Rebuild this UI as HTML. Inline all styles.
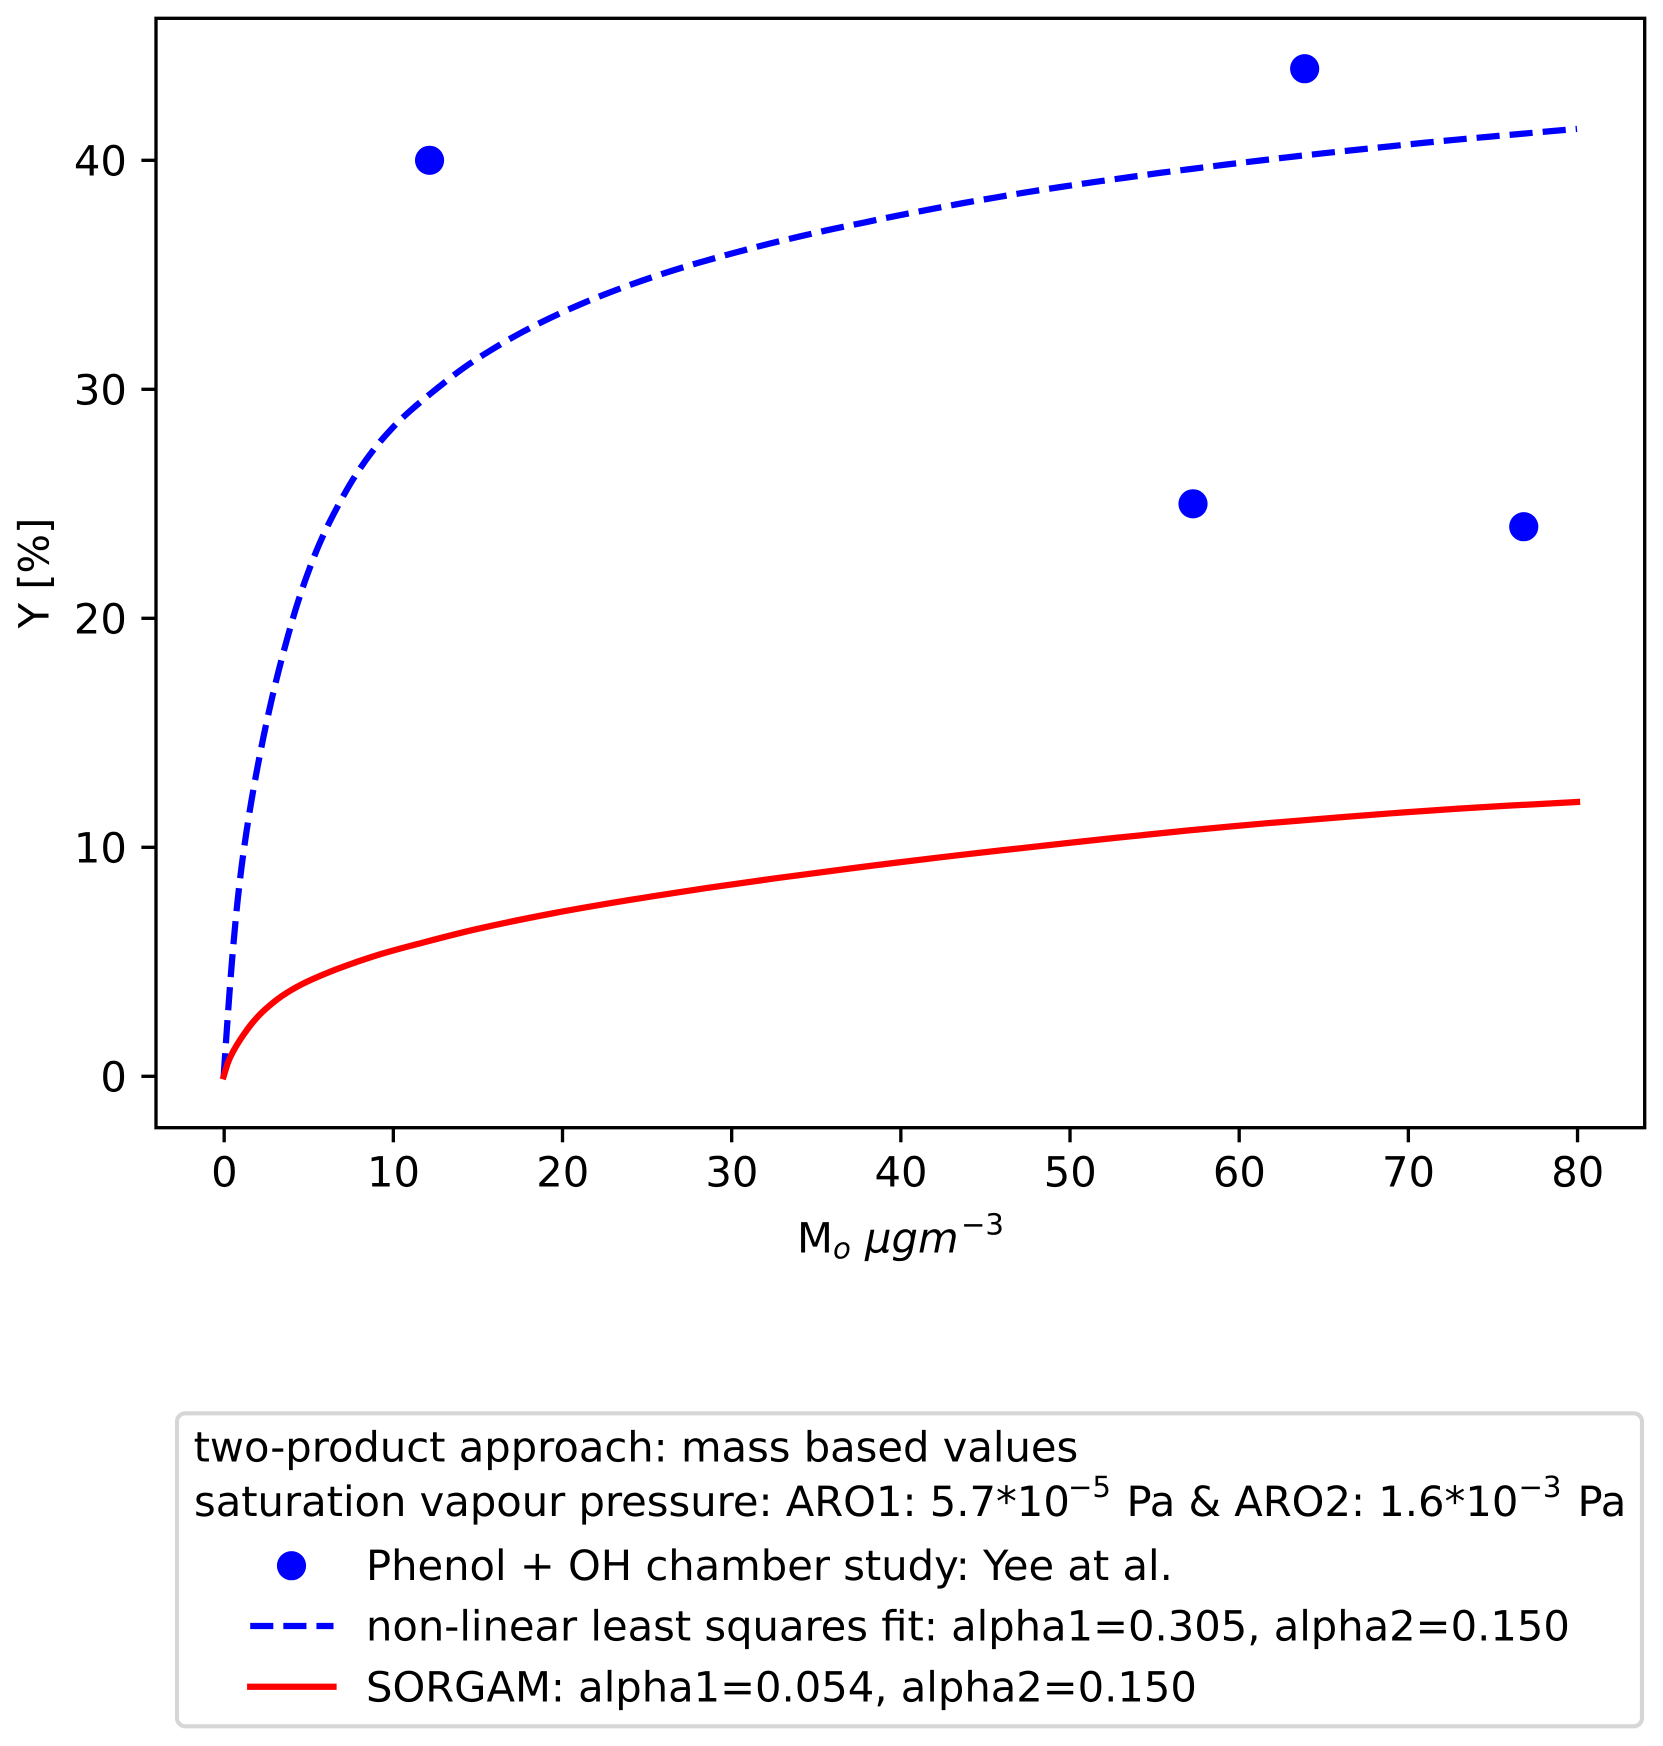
<!DOCTYPE html>
<html lang="en">
<head>
<meta charset="utf-8">
<title>Phenol + OH yield chart</title>
<style>
html,body{margin:0;padding:0;background:#fff;}
svg{display:block;}
text{font-family:"DejaVu Sans",sans-serif;fill:#000;text-rendering:geometricPrecision;}
</style>
</head>
<body>
<svg id="chart" xmlns="http://www.w3.org/2000/svg" width="1663" height="1746" viewBox="0 0 1663 1746">
  <rect x="0" y="0" width="1663" height="1746" fill="#fff"/>
  <g id="marks"></g>
  <g id="ticks"></g>
  <rect x="156" y="18.3" width="1488.7" height="1109.4" fill="none" stroke="#000" stroke-width="3.33"/>

  <text transform="translate(48.5,573) rotate(-90)" text-anchor="middle" font-size="41.67">Y [%]</text>
  <text font-size="41.67"><tspan x="797" y="1252.5">M</tspan><tspan x="833" y="1258.5" font-size="29.17" font-style="italic">o</tspan><tspan x="865" y="1252.5" font-style="italic">μgm</tspan><tspan x="961" y="1234.5" font-size="29.17">−3</tspan></text>

  <g>
    <rect x="177" y="1413.3" width="1465" height="313" rx="8.3" ry="8.3" fill="#fff" stroke="#d6d6d6" stroke-width="4.17"/>
    <text x="193.6" y="1461.5" font-size="41.67">two-product approach: mass based values</text>
    <text font-size="41.67"><tspan x="194" y="1516">saturation vapour pressure: ARO1: 5.7*10</tspan><tspan x="1068" y="1497" font-size="29.17">−5</tspan><tspan x="1126.5" y="1516">Pa &amp; ARO2: 1.6*10</tspan><tspan x="1518.5" y="1497" font-size="29.17">−3</tspan><tspan x="1577.5" y="1516">Pa</tspan></text>
    <circle cx="291.5" cy="1565.7" r="14.6" fill="#0000ff"/>
    <text x="366" y="1580" font-size="41.67">Phenol + OH chamber study: Yee at al.</text>
    <line x1="250.2" y1="1626" x2="333.5" y2="1626" stroke="#0000ff" stroke-width="6.25" stroke-dasharray="23.125 10"/>
    <text x="366" y="1640.7" font-size="41.67">non-linear least squares fit: alpha1=0.305, alpha2=0.150</text>
    <line x1="250.2" y1="1686.7" x2="333.5" y2="1686.7" stroke="#ff0000" stroke-width="6.25" stroke-linecap="square"/>
    <text x="366" y="1701.7" font-size="41.67">SORGAM: alpha1=0.054, alpha2=0.150</text>
  </g>
</svg>
<script>
const xTickValues = [0, 10, 20, 30, 40, 50, 60, 70, 80];
const xTickLabels = ["0", "10", "20", "30", "40", "50", "60", "70", "80"];
const yTickValues = [0, 10, 20, 30, 40];
const yTickLabels = ["0", "10", "20", "30", "40"];

const chamberX = [12.17, 63.9, 57.3, 76.85];
const chamberY = [40, 44, 25, 24];

const fitX = [0, 0.18, 0.32, 0.47, 0.64, 0.83, 1.06, 1.33, 1.64, 1.99, 2.37, 2.79, 3.25, 3.75, 4.3, 4.92, 5.63, 6.47, 7.63, 8.8, 9.96, 11.12, 12.6, 14.18, 15.8, 17.53, 19.26, 21.08, 22.89, 24.72, 26.6, 28.47, 30.34, 32.21, 34.15, 36.06, 37.97, 39.6, 41.77, 43.7, 45.66, 47.59, 49.52, 51.45, 53.4, 55.34, 57.29, 59.22, 61.15, 63.1, 65.06, 67.0, 68.94, 70.9, 72.86, 74.79, 76.76, 78.72, 80];
const fitY = [0, 1.96, 3.41, 4.84, 6.28, 7.71, 9.16, 10.59, 12.03, 13.46, 14.88, 16.30, 17.71, 19.10, 20.50, 21.86, 23.20, 24.51, 26.05, 27.30, 28.30, 29.12, 30.03, 30.93, 31.71, 32.45, 33.10, 33.71, 34.25, 34.74, 35.20, 35.61, 35.99, 36.35, 36.69, 37.01, 37.30, 37.55, 37.86, 38.13, 38.38, 38.62, 38.84, 39.05, 39.25, 39.45, 39.63, 39.81, 39.98, 40.15, 40.31, 40.46, 40.61, 40.76, 40.90, 41.03, 41.16, 41.29, 41.37];

const sorgamX = [0, 0.28, 0.67, 1.17, 1.76, 2.45, 3.43, 4.62, 6.0, 7.38, 9.35, 11.32, 14.96, 19.48, 24.0, 28.53, 33.06, 37.59, 42.12, 46, 52.7, 59.5, 66.3, 73, 80];
const sorgamY = [0, 0.65, 1.23, 1.81, 2.39, 2.92, 3.50, 4.02, 4.48, 4.87, 5.35, 5.75, 6.43, 7.12, 7.70, 8.22, 8.69, 9.13, 9.54, 9.87, 10.41, 10.91, 11.33, 11.69, 11.98];

const SVG_NS = "http://www.w3.org/2000/svg";
const plotLeft = 156, plotRight = 1644.7, plotTop = 18.3, plotBottom = 1127.7;
const xMin = -4, xMax = 84;
const yBase = 1076.3, yUnit = 22.9;

function xScale(v) { return plotLeft + (v - xMin) / (xMax - xMin) * (plotRight - plotLeft); }
function yScale(v) { return yBase - v * yUnit; }

function smoothPath(xs, ys) {
  const p = xs.map((x, i) => [xScale(x), yScale(ys[i])]);
  let d = "M" + p[0][0].toFixed(2) + " " + p[0][1].toFixed(2);
  for (let i = 0; i < p.length - 1; i++) {
    const a = p[Math.max(i - 1, 0)], b = p[i], c = p[i + 1], e = p[Math.min(i + 2, p.length - 1)];
    const c1x = b[0] + (c[0] - a[0]) / 6, c1y = b[1] + (c[1] - a[1]) / 6;
    const c2x = c[0] - (e[0] - b[0]) / 6, c2y = c[1] - (e[1] - b[1]) / 6;
    d += "C" + c1x.toFixed(2) + " " + c1y.toFixed(2) + " " + c2x.toFixed(2) + " " + c2y.toFixed(2) + " " + c[0].toFixed(2) + " " + c[1].toFixed(2);
  }
  return d;
}

const marks = document.getElementById("marks");
const ticks = document.getElementById("ticks");

chamberX.forEach((x, i) => {
  const dot = document.createElementNS(SVG_NS, "circle");
  dot.setAttribute("cx", xScale(x));
  dot.setAttribute("cy", yScale(chamberY[i]));
  dot.setAttribute("r", 14.6);
  dot.setAttribute("fill", "#0000ff");
  
  
  marks.appendChild(dot);
});

const fitLine = document.createElementNS(SVG_NS, "path");
fitLine.setAttribute("d", smoothPath(fitX, fitY));
fitLine.setAttribute("fill", "none");
fitLine.setAttribute("stroke", "#0000ff");
fitLine.setAttribute("stroke-width", 6.25);
fitLine.setAttribute("stroke-dasharray", "23.125 10");


marks.appendChild(fitLine);

const sorgamLine = document.createElementNS(SVG_NS, "path");
sorgamLine.setAttribute("d", smoothPath(sorgamX, sorgamY));
sorgamLine.setAttribute("fill", "none");
sorgamLine.setAttribute("stroke", "#ff0000");
sorgamLine.setAttribute("stroke-width", 6.25);
sorgamLine.setAttribute("stroke-linecap", "square");


marks.appendChild(sorgamLine);

xTickValues.forEach((v, i) => {
  const tick = document.createElementNS(SVG_NS, "line");
  tick.setAttribute("x1", xScale(v) + 0.5);
  tick.setAttribute("x2", xScale(v) + 0.5);
  tick.setAttribute("y1", plotBottom);
  tick.setAttribute("y2", plotBottom + 14.6);
  tick.setAttribute("stroke", "#000");
  tick.setAttribute("stroke-width", 3.33);
  
  
  ticks.appendChild(tick);
  const label = document.createElementNS(SVG_NS, "text");
  label.setAttribute("x", xScale(v) + 0.7);
  label.setAttribute("y", 1186.5);
  label.setAttribute("font-size", 41.67);
  label.setAttribute("text-anchor", "middle");
  
  
  label.textContent = xTickLabels[i];
  ticks.appendChild(label);
});

yTickValues.forEach((v, i) => {
  const tick = document.createElementNS(SVG_NS, "line");
  tick.setAttribute("x1", plotLeft);
  tick.setAttribute("x2", plotLeft - 14.6);
  tick.setAttribute("y1", yScale(v));
  tick.setAttribute("y2", yScale(v));
  tick.setAttribute("stroke", "#000");
  tick.setAttribute("stroke-width", 3.33);
  
  
  ticks.appendChild(tick);
  const label = document.createElementNS(SVG_NS, "text");
  label.setAttribute("x", 126.9);
  label.setAttribute("y", yScale(v) + 15);
  label.setAttribute("font-size", 41.67);
  label.setAttribute("text-anchor", "end");
  
  
  label.textContent = yTickLabels[i];
  ticks.appendChild(label);
});
</script>
</body>
</html>
